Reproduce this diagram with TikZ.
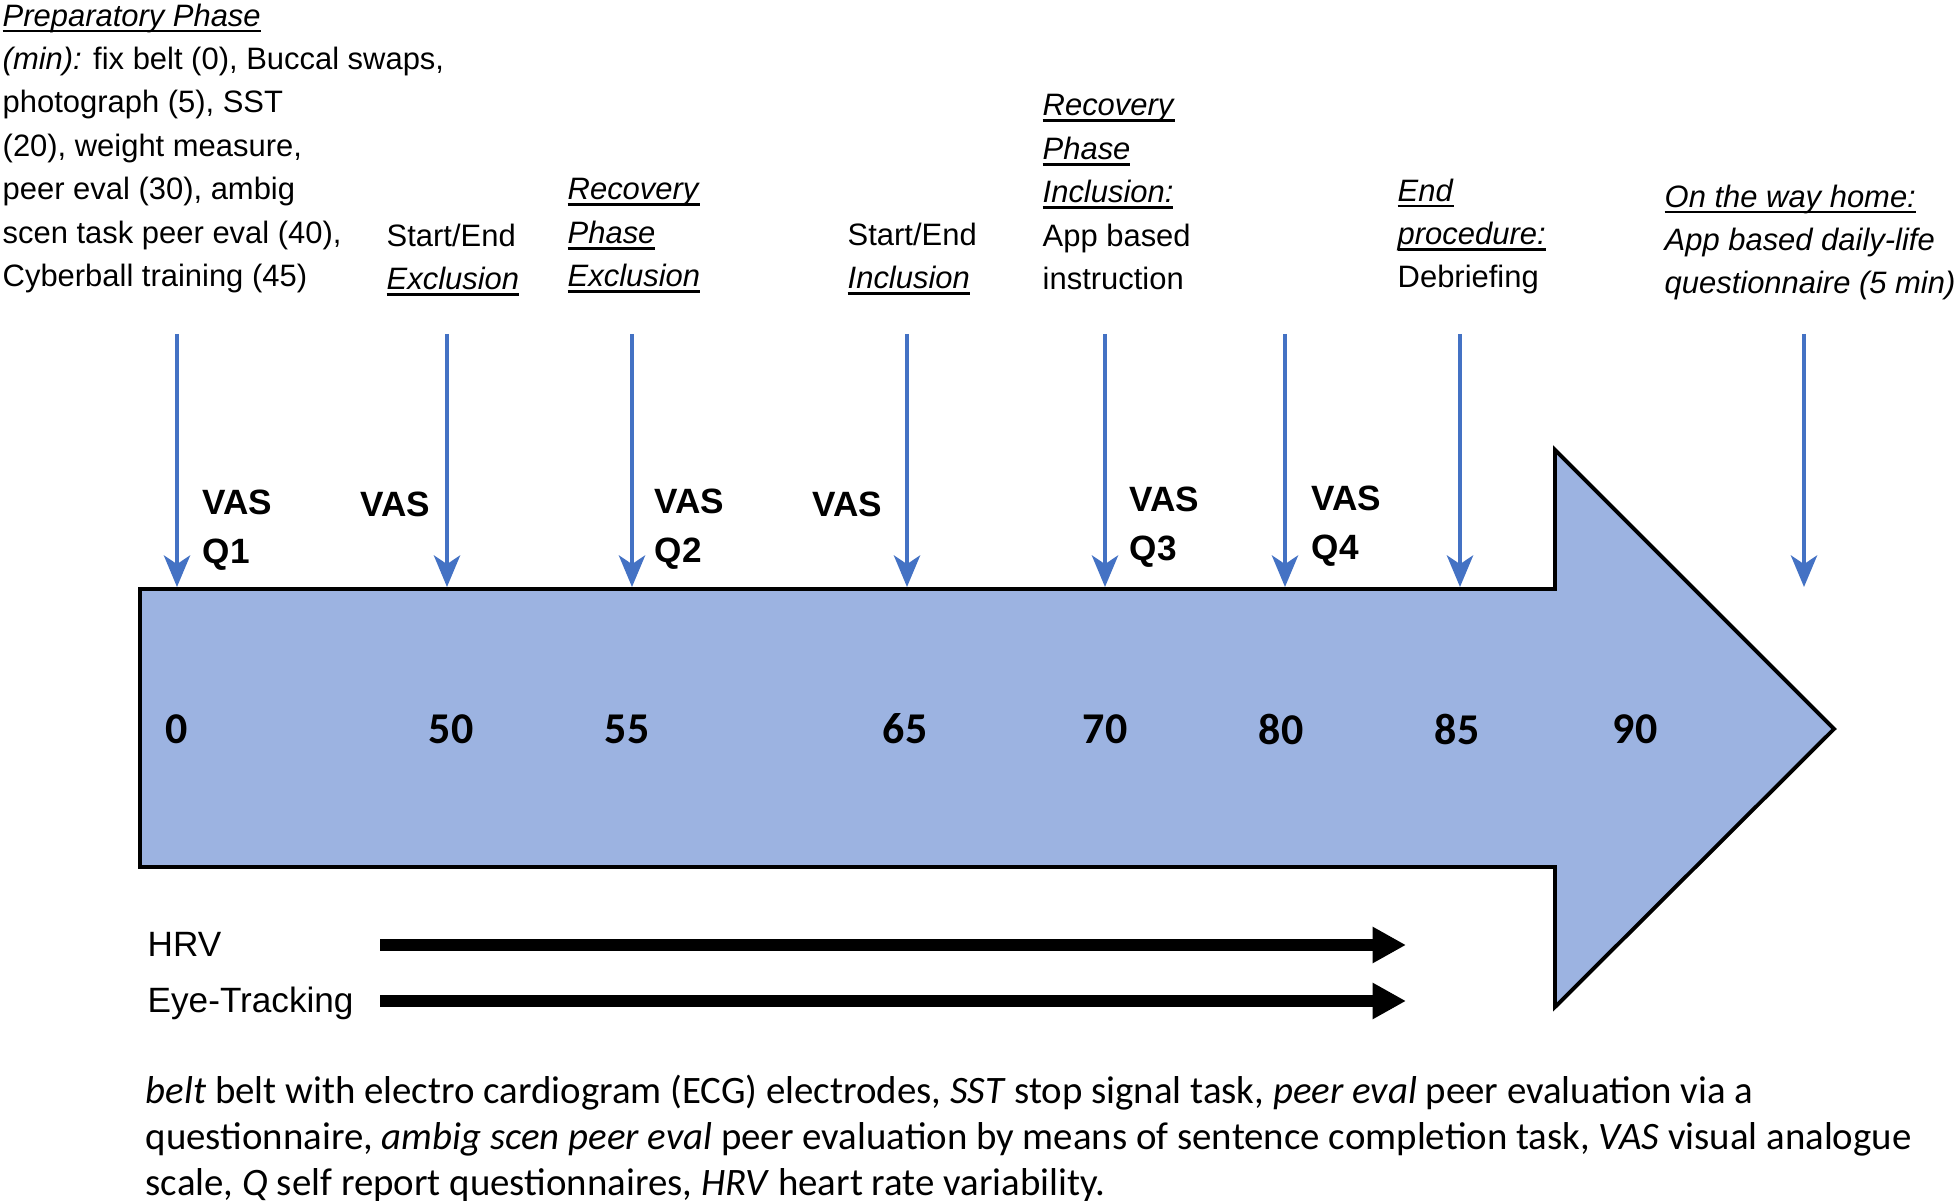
\documentclass[tikz,border=0pt]{standalone}
\usepackage{fontspec}
\setmainfont{Liberation Sans}
\newfontfamily\calfont{Carlito}
\usetikzlibrary{arrows.meta}
\definecolor{bodyblue}{RGB}{156,179,225}
\definecolor{markblue}{RGB}{68,114,196}
\newcommand\ulphase[1]{\setbox0\hbox{\textit{#1}}\rlap{\rule[-0.2em]{\wd0}{0.09em}}\box0}

\begin{document}
\begin{tikzpicture}[x=0.01cm, y=-0.01cm,
    phase/.style={anchor=north west, inner sep=0pt, align=left, font=\fontsize{8.8}{12.35}\selectfont},
    vas/.style={anchor=north west, inner sep=0pt, align=left, font=\fontsize{10}{13.9}\selectfont\bfseries},
    minute/.style={inner sep=0pt, font=\calfont\fontsize{12.5}{15}\selectfont\bfseries},
    vasarrow/.style={markblue, line width=1pt, -{Stealth[length=9pt, width=7.5pt, inset=2.5pt]}},
    track/.style={line width=3.4pt, -{Triangle[length=9.5pt, width=9.7pt]}},
    measure/.style={anchor=base west, inner sep=0pt, font=\fontsize{10}{12}\selectfont}]
    \useasboundingbox (0,0) rectangle (1960,1201);

    \path[draw=black, line width=1.1pt, fill=bodyblue] (140,589) -- (1555,589) -- (1555,450)
        -- (1834,729) -- (1555,1007) -- (1555,867) -- (140,867) -- cycle;
    \coordinate (bodytop) at (140,587);

    \node[phase] (prep) at (2,3) {\ulphase{Preparatory Phase}\\
        {\itshape (min):} fix belt (0), Buccal swaps,\\ photograph (5), SST\\ (20), weight measure,\\
        peer eval (30), ambig\\ scen task peer eval (40),\\ Cyberball training (45)};
    \node[phase] (sex) at (386,223) {Start/End\\ \ulphase{Exclusion}};
    \node[phase] (rex) at (567,178) {\ulphase{Recovery}\\ \ulphase{Phase}\\ \ulphase{Exclusion}};
    \node[phase] (sin) at (847,222) {Start/End\\ \ulphase{Inclusion}};
    \node[phase] (rin) at (1042,94) {\ulphase{Recovery}\\ \ulphase{Phase}\\ \ulphase{Inclusion:}\\ App based\\ instruction};
    \node[phase] (endp) at (1397,178) {\ulphase{End}\\ \ulphase{procedure:}\\ Debriefing};
    \node[phase] (home) at (1664,184) {\ulphase{On the way home:}\\ \textit{App based daily-life}\\ \textit{questionnaire (5 min)}};

    \coordinate (a0) at (177,334);
    \coordinate (a50) at (447,334);
    \coordinate (a55) at (632,334);
    \coordinate (a65) at (907,334);
    \coordinate (a70) at (1105,334);
    \coordinate (a80) at (1285,334);
    \coordinate (a85) at (1460,334);
    \coordinate (ahome) at (1804,334);
    \draw[vasarrow] (a0) -- (a0 |- bodytop);
    \draw[vasarrow] (a50) -- (a50 |- bodytop);
    \draw[vasarrow] (a55) -- (a55 |- bodytop);
    \draw[vasarrow] (a65) -- (a65 |- bodytop);
    \draw[vasarrow] (a70) -- (a70 |- bodytop);
    \draw[vasarrow] (a80) -- (a80 |- bodytop);
    \draw[vasarrow] (a85) -- (a85 |- bodytop);
    \draw[vasarrow] (ahome) -- (ahome |- bodytop);

    \node[vas] (v0) at (202,489) {VAS\\ Q1};
    \node[vas] (v50) at (360,491) {VAS};
    \node[vas] (v55) at (654,488) {VAS\\ Q2};
    \node[vas] (v65) at (812,491) {VAS};
    \node[vas] (v70) at (1129,486) {VAS\\ Q3};
    \node[vas] (v80) at (1311,485) {VAS\\ Q4};

    \node[minute] (m0) at (177,729) {0};
    \node[minute] (m50) at (451,729) {50};
    \node[minute] (m55) at (627,729) {55};
    \node[minute] (m65) at (905,729) {65};
    \node[minute] (m70) at (1105,729) {70};
    \node[minute] (m80) at (1281,729) {80};
    \node[minute] (m85) at (1457,729) {85};
    \node[minute] (m90) at (1635,729) {90};

    \node[measure] (hrv) at (147,957) {HRV};
    \node[measure] (eye) at (147,1013) {Eye-Tracking};
    \coordinate (hrvs) at (380,945);
    \coordinate (hrve) at (1406,945);
    \coordinate (eyes) at (380,1001);
    \coordinate (eyee) at (1406,1001);
    \draw[track] (hrvs) -- (hrve);
    \draw[track] (eyes) -- (eyee);

    \node[anchor=north west, inner sep=0pt, align=left, font=\calfont\fontsize{11.05}{13.1}\selectfont] (legend) at (145,1074)
        {\textit{belt} belt with electro cardiogram (ECG) electrodes, \textit{SST} stop signal task, \textit{peer eval} peer evaluation via a\\
        questionnaire, \textit{ambig scen peer eval} peer evaluation by means of sentence completion task, \textit{VAS} visual analogue\\
        scale, \textit{Q} self report questionnaires, \textit{HRV} heart rate variability.};
\end{tikzpicture}
\end{document}
